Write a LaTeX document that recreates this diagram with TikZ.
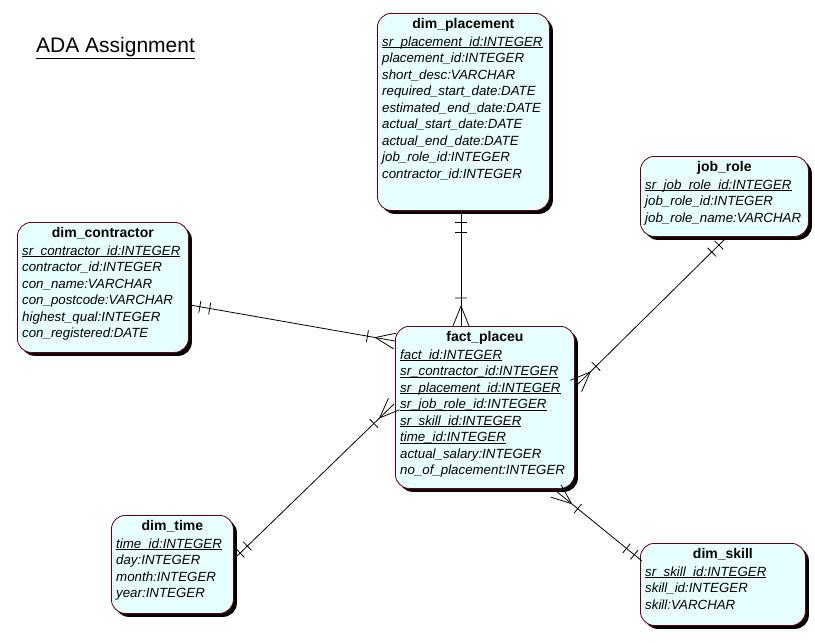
\documentclass[tikz,border=0pt]{standalone}
\usepackage{fontspec}
\setmainfont{Liberation Sans}
\usetikzlibrary{calc,shadows}
\definecolor{entfill}{RGB}{232,255,255}
\definecolor{entdraw}{RGB}{96,0,16}
\newlength\ulw
\newcommand\pk[1]{\settowidth\ulw{#1}\rlap{\rule[-2pt]{\ulw}{0.8pt}}#1}
\newcommand\entity[7]{%
  \node[ent, minimum width=#4pt, minimum height=#5pt] (#1) at (#2,#3) {};
  \node[ttl] (#1-t) at ($(#1.north)+(0,15)$) {#6};
  \node[attr] (#1-a) at ($(#1.north west)+(5,21.5)$) {\strut#7};
}
\newcommand\crowmany[2]{\draw[conn]
  ($(#1)!20pt!(#2)$) -- ($(#1)!8pt!90:(#2)$)
  ($(#1)!20pt!(#2)$) -- ($(#1)!8pt!-90:(#2)$)
  ($(#1)!28pt!(#2)!6pt!90:(#2)$) -- ($(#1)!28pt!(#2)!6pt!-90:(#2)$);}
\newcommand\crowone[2]{\draw[conn]
  ($(#1)!10pt!(#2)!6pt!90:(#2)$) -- ($(#1)!10pt!(#2)!6pt!-90:(#2)$)
  ($(#1)!20pt!(#2)!6pt!90:(#2)$) -- ($(#1)!20pt!(#2)!6pt!-90:(#2)$);}
\begin{document}
\begin{tikzpicture}[x=1pt,y=-1pt,
  ent/.style={anchor=north west, rounded corners=14pt, draw=entdraw, fill=entfill, line width=0.8pt, inner sep=0pt,
    drop shadow={shadow xshift=3.5pt, shadow yshift=-3.5pt, fill=black, opacity=1}},
  ttl/.style={anchor=base, inner sep=0pt, font=\fontsize{14}{16}\selectfont\bfseries},
  attr/.style={anchor=north west, inner sep=0pt, align=left, font=\fontsize{13.3}{16.5}\selectfont\itshape},
  conn/.style={line width=0.8pt, black}]
\useasboundingbox (0,0) rectangle (815,643);
\node[anchor=base west, inner sep=0pt, font=\fontsize{21}{25}\selectfont] (title) at (36,52) {\underline{ADA Assignment}};

\entity{plc}{377}{13}{172}{197}{dim\_placement}{\pk{sr\_placement\_id:INTEGER}\\placement\_id:INTEGER\\short\_desc:VARCHAR\\required\_start\_date:DATE\\estimated\_end\_date:DATE\\actual\_start\_date:DATE\\actual\_end\_date:DATE\\job\_role\_id:INTEGER\\contractor\_id:INTEGER}
\entity{job}{640}{156}{168}{80}{job\_role}{\pk{sr\_job\_role\_id:INTEGER}\\job\_role\_id:INTEGER\\job\_role\_name:VARCHAR}
\entity{con}{17}{222}{171}{130}{dim\_contractor}{\pk{sr\_contractor\_id:INTEGER}\\contractor\_id:INTEGER\\con\_name:VARCHAR\\con\_postcode:VARCHAR\\highest\_qual:INTEGER\\con\_registered:DATE}
\entity{fact}{395}{326}{179}{162}{fact\_placeu}{\pk{fact\_id:INTEGER}\\\pk{sr\_contractor\_id:INTEGER}\\\pk{sr\_placement\_id:INTEGER}\\\pk{sr\_job\_role\_id:INTEGER}\\\pk{sr\_skill\_id:INTEGER}\\\pk{time\_id:INTEGER}\\actual\_salary:INTEGER\\no\_of\_placement:INTEGER}
\entity{time}{111}{515}{122}{98}{dim\_time}{\pk{time\_id:INTEGER}\\day:INTEGER\\month:INTEGER\\year:INTEGER}
\entity{skill}{640}{543}{165}{82}{dim\_skill}{\pk{sr\_skill\_id:INTEGER}\\skill\_id:INTEGER\\skill:VARCHAR}

\coordinate (plc-e) at (461,212);
\coordinate (fact-e1) at (461,326);
\coordinate (con-e) at (190,305);
\coordinate (fact-e2) at (395,341);
\coordinate (job-e) at (726,238);
\coordinate (fact-e3) at (576,386);
\coordinate (time-e) at (233,560);
\coordinate (fact-e4) at (394,404);
\coordinate (fact-e5) at (556,491);
\coordinate (skill-e) at (642,561);

\draw[conn] (plc-e) -- (fact-e1);
\draw[conn] (con-e) -- (fact-e2);
\draw[conn] (job-e) -- (fact-e3);
\draw[conn] (time-e) -- (fact-e4);
\draw[conn] (fact-e5) -- (skill-e);

\crowone{plc-e}{fact-e1}\crowmany{fact-e1}{plc-e}
\crowone{con-e}{fact-e2}\crowmany{fact-e2}{con-e}
\crowone{job-e}{fact-e3}\crowmany{fact-e3}{job-e}
\crowone{time-e}{fact-e4}\crowmany{fact-e4}{time-e}
\crowone{skill-e}{fact-e5}\crowmany{fact-e5}{skill-e}
\end{tikzpicture}
\end{document}
